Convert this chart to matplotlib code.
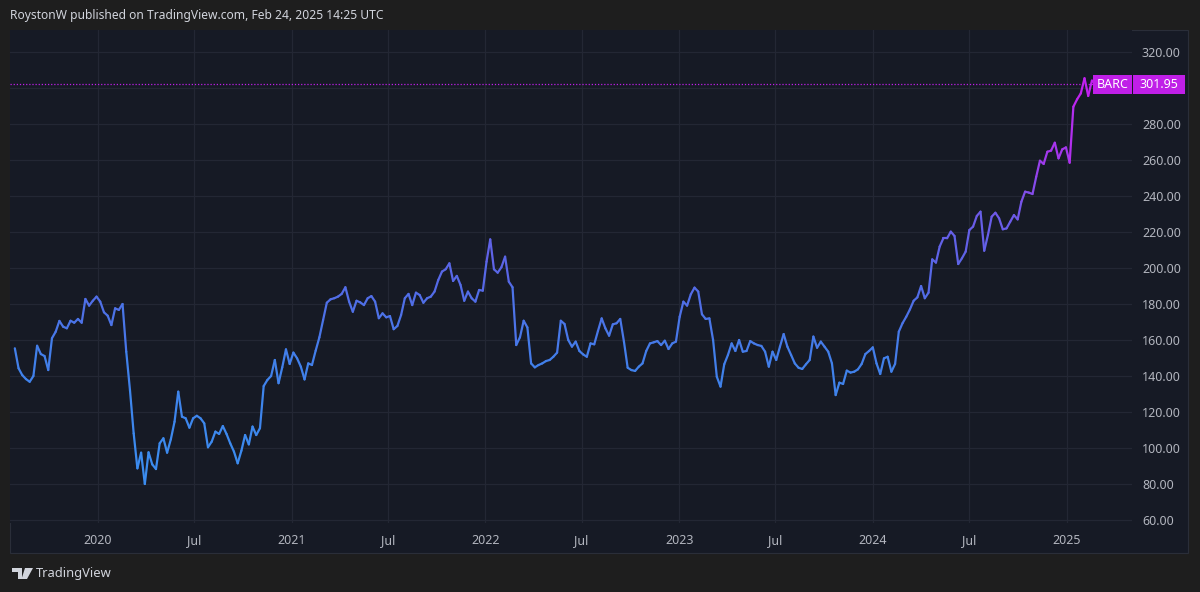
import matplotlib
matplotlib.use("Agg")
import matplotlib.pyplot as plt
import matplotlib.dates as mdates
import matplotlib.transforms as mtransforms
from matplotlib.collections import LineCollection
from matplotlib.colors import LinearSegmentedColormap
from matplotlib.patches import Rectangle, Polygon
import numpy as np
import pandas as pd

# ---------------- data (weekly closes, GBX) ----------------
ticker = "BARC"
last_label = "301.95"
end_date = "2025-02-24"

prices = [
    155.4, 144.3, 140.5, 138.3, 136.8, 140.0, 156.8, 152.2, 151.1, 143.3,
    161.0, 164.6, 170.6, 167.4, 166.5, 170.7, 169.6, 171.7, 169.6, 182.8,
    179.1, 181.8, 184.1, 181.3, 175.4, 173.5, 168.3, 177.6, 176.7, 180.0,
    153.5, 132.2, 108.1, 88.7, 97.4, 80.0, 97.6, 90.9, 88.3, 102.6,
    105.4, 97.4, 104.8, 114.6, 131.3, 117.4, 116.5, 111.3, 116.5, 117.9,
    116.5, 113.7, 100.4, 103.5, 109.1, 107.8, 112.2, 107.8, 102.6, 98.0,
    91.5, 98.5, 107.2, 102.0, 111.9, 107.2, 111.0, 134.4, 137.8, 140.0,
    148.9, 136.0, 144.8, 154.8, 146.7,
    153.0, 149.8, 145.2, 138.1, 147.0, 146.1, 154.1, 161.5, 171.1, 180.7,
    182.6, 183.2, 184.1, 185.6, 189.3, 181.3, 175.7, 181.8, 180.9, 179.4,
    183.2, 184.4, 181.3, 172.1, 174.8, 172.6, 173.3, 166.0, 167.8, 173.9,
    183.2, 185.6, 179.4, 186.3, 185.0, 180.7, 183.2, 184.1, 186.9, 193.3,
    198.0, 199.3, 202.6, 192.8, 195.6, 190.6, 181.8, 186.9, 183.2, 181.3,
    187.8, 187.4, 203.5, 215.9, 199.3, 197.4, 200.4, 206.3, 192.4, 189.3,
    157.2, 161.5, 170.7, 167.0, 147.0, 144.8, 146.1, 147.0, 148.3, 148.9,
    150.7, 153.0, 170.7, 168.9, 160.0,
    156.3, 159.1, 153.9, 152.0, 150.7, 158.1, 157.6, 165.0, 172.0, 166.5,
    162.4, 168.7, 169.3, 171.7, 159.1, 144.6, 143.3, 142.8, 145.2, 147.0,
    153.9, 158.1, 158.7, 159.4, 157.2, 159.6, 155.0, 158.1, 159.1, 172.9,
    181.3, 179.1, 185.4, 189.1, 186.9, 174.3, 171.7, 172.0, 160.0, 139.6,
    134.1, 146.5, 151.7, 158.1, 153.9, 160.0, 153.5, 153.9, 159.4, 158.1,
    157.2, 156.7, 153.5, 145.2, 153.5, 148.9, 156.3, 163.3, 156.3, 151.7,
    147.0, 144.6, 143.9, 146.5, 148.9, 161.9, 155.7, 159.1, 156.3, 153.5,
    147.0, 129.4,
    136.3, 135.6, 143.0, 141.9, 142.4, 143.7, 146.7, 152.2, 153.9, 155.9,
    147.0, 141.1, 149.8, 150.7, 142.4, 146.7, 164.6, 169.3, 172.9, 177.0,
    181.8, 183.7, 190.0, 183.2, 186.3, 204.8, 203.0, 211.9, 216.5, 216.5,
    220.2, 217.8, 202.2, 205.4, 209.1, 221.1, 223.0, 228.9, 231.3, 209.6,
    218.3, 228.5, 230.7, 227.6, 221.5, 222.0, 225.7, 229.4, 227.0, 236.8,
    242.4, 241.9, 241.1, 250.7, 259.6, 257.8, 264.6, 265.2, 269.6, 260.9,
    265.9, 267.0, 258.5, 289.6, 293.7, 297.0, 305.4, 295.6, 304.1, 301.95,
]

dates = pd.date_range(end=end_date, periods=len(prices), freq="W-MON")

y_ticks = [60, 80, 100, 120, 140, 160, 180, 200, 220, 240, 260, 280, 300, 320]
x_tick_dates = ["2020-01-01", "2020-07-01", "2021-01-01", "2021-07-01", "2022-01-01",
                "2022-07-01", "2023-01-01", "2023-07-01", "2024-01-01", "2024-07-01",
                "2025-01-01"]
x_tick_labels = ["2020", "Jul", "2021", "Jul", "2022", "Jul", "2023", "Jul", "2024", "Jul", "2025"]

header = "RoystonW published on TradingView.com, Feb 24, 2025 14:25 UTC"

# ---------------- styling ----------------
W, H = 1200, 592
outer_bg = "#1e1e1e"
panel_bg = "#161a25"
grid_c = "#232734"
text_c = "#b2b5be"
purple = "#c01fe8"

plt.rcParams["font.family"] = ["Noto Sans", "DejaVu Sans"]

fig = plt.figure(figsize=(W / 100, H / 100), dpi=100, facecolor=outer_bg)

# panel background (behind the axes)
panel = Rectangle((10 / W, (H - 553) / H), 1178 / W, 523 / H,
                  transform=fig.transFigure, facecolor=panel_bg,
                  edgecolor="#2a2e39", lw=0.8, zorder=-5)
fig.patches.append(panel)

ax = fig.add_axes([10 / W, (H - 523) / H, 1122 / W, 493 / H])
ax.set_zorder(1)
ax.set_facecolor(panel_bg)
for s in ax.spines.values():
    s.set_visible(False)

# x scale: 2020-01-01 at px 97.6, 2025-01-01 at px 1067
d20 = mdates.date2num(pd.Timestamp("2020-01-01"))
d25 = mdates.date2num(pd.Timestamp("2025-01-01"))
ppd = (1067 - 97.6) / (d25 - d20)
ax.set_xlim(d20 - (97.6 - 10) / ppd, d20 + (1132 - 97.6) / ppd)
ax.set_ylim(60 + (520 - 523) / 1.8, 60 + (520 - 30) / 1.8)

# gradient line
x = mdates.date2num(dates)
y = np.array(prices)
pts = np.column_stack([x, y]).reshape(-1, 1, 2)
segs = np.concatenate([pts[:-1], pts[1:]], axis=1)
cmap = LinearSegmentedColormap.from_list(
    "tv", [(0.0, "#3a8ef0"), (0.3, "#4180ea"), (0.5, "#5569e6"),
           (0.65, "#6a5ce8"), (0.75, "#8a48ea"), (0.85, "#b030ee"), (1.0, "#c41ff0")])
vals = (y[:-1] + y[1:]) / 2
norm = plt.Normalize(80, 305)
lc = LineCollection(segs, colors=cmap(norm(vals)), linewidths=1.6, capstyle="round",
                    joinstyle="round", zorder=3)
ax.add_collection(lc)

# last price dotted line
ax.axhline(prices[-1], color=purple, lw=0.9, ls=(0, (1, 1.5)), zorder=2)

# ticks / grid
ax.set_yticks(y_ticks)
# the 300 label is hidden under the last-price tag in the reference
ax.set_yticklabels(["" if v == 300 else f"{v:.2f}" for v in y_ticks])
ax.yaxis.tick_right()
ax.set_xticks([mdates.date2num(pd.Timestamp(d)) for d in x_tick_dates])
ax.set_xticklabels(x_tick_labels)
ax.tick_params(axis="y", length=0, pad=7.2, labelsize=9, labelcolor=text_c)
ax.tick_params(axis="x", length=0, pad=8, labelsize=9, labelcolor=text_c)
for lab in ax.get_xticklabels():
    if lab.get_text() != "Jul":
        lab.set_fontweight("bold")
ax.grid(True, color=grid_c, lw=0.9, zorder=0)

# price tag boxes
bt = mtransforms.blended_transform_factory(fig.transFigure, ax.transData)
hh = 19 / 1.8
ax.add_patch(Rectangle((1093 / W, prices[-1] - hh / 2), 39 / W, hh, transform=bt,
                       facecolor=purple, edgecolor="none", clip_on=False, zorder=5))
ax.add_patch(Rectangle((1133 / W, prices[-1] - hh / 2), 52 / W, hh, transform=bt,
                       facecolor=purple, edgecolor="none", clip_on=False, zorder=5))
ax.text(1112.5 / W, prices[-1], ticker, transform=bt, color="white", fontsize=9,
        ha="center", va="center", clip_on=False, zorder=6)
ax.text(1159 / W, prices[-1], last_label, transform=bt, color="white", fontsize=9,
        ha="center", va="center", clip_on=False, zorder=6)

# header
fig.text(10 / W, 1 - 16 / H, header, color="#d1d4dc", fontsize=8.7, ha="left", va="center")

# TradingView logo (approximate) + wordmark
logo_c = "#d1d4dc"
def fp(px, py):
    return (px / W, 1 - py / H)
fig.patches.append(Polygon([fp(12, 568), fp(22, 568), fp(22, 579), fp(18, 579), fp(18, 572), fp(12, 572)],
                           closed=True, transform=fig.transFigure, facecolor=logo_c, edgecolor="none"))
fig.patches.append(Polygon([fp(25, 568), fp(33, 568), fp(27, 579), fp(21.5, 579)],
                           closed=True, transform=fig.transFigure, facecolor=logo_c, edgecolor="none"))
fig.text(36 / W, 1 - 573.5 / H, "TradingView", color=logo_c, fontsize=9.3, ha="left", va="center",
         fontweight="semibold")

fig.savefig("out.png", dpi=100, facecolor=outer_bg)
